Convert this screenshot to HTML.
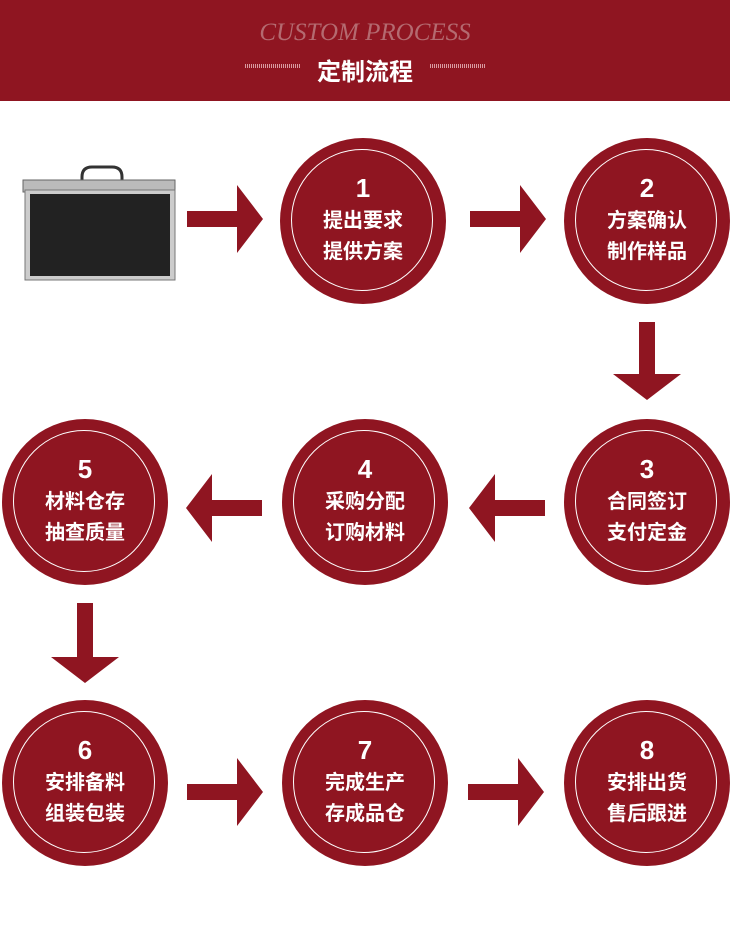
<!DOCTYPE html>
<html><head><meta charset="utf-8"><style>
body{margin:0;width:730px;height:945px;background:#fff;position:relative;overflow:hidden;font-family:"Liberation Sans","Noto Sans CJK SC",sans-serif}
.hd{position:absolute;left:0;top:0;width:730px;height:101px;background:#8f1521}
.en{position:absolute;top:19px;width:730px;text-align:center;font-family:"Liberation Serif",serif;font-style:italic;font-size:25px;color:#b46a70;letter-spacing:0px}
.cn{position:absolute;top:52px;width:730px;text-align:center;font-size:24px;font-weight:bold;color:#fff}
.ln{position:absolute;top:64px;width:55px;height:4px;background:repeating-linear-gradient(90deg,#d89aa0 0 1px,transparent 1px 2px)}
.c{position:absolute;width:166px;height:166px;border-radius:50%;background:#8f1521}
.c::after{content:"";position:absolute;left:11px;top:11px;width:142px;height:142px;border-radius:50%;border:1.5px solid #fff;box-sizing:border-box}
.t{position:absolute;left:0;width:166px;text-align:center;color:#fff;font-weight:bold;font-family:"Liberation Sans","Noto Sans CJK SC",sans-serif}
.n{top:35px;font-size:26px}
.l1{top:66px;font-size:20px}
.l2{top:97px;font-size:20px}
</style></head><body>
<div class="hd"></div>
<div class="en">CUSTOM PROCESS</div>
<div class="ln" style="left:245px"></div><div class="ln" style="left:430px"></div>
<div class="cn">定制流程</div>

<svg style="position:absolute;left:20px;top:160px" width="160" height="125">
<path d="M62 25 v-8 q0-10 10-10 h20 q10 0 10 10 v8" fill="none" stroke="#333" stroke-width="3"/>
<rect x="3" y="20" width="152" height="12" fill="#bbb" stroke="#666"/>
<rect x="5" y="30" width="150" height="90" fill="#ccc" stroke="#777"/>
<rect x="10" y="34" width="140" height="82" fill="#222"/>
</svg>

<svg style="position:absolute;left:0;top:0" width="730" height="945">
<g fill="#8f1521">
<path d="M187 219h50v-26l26 34-26 34v-26h-50z" transform="translate(0,-8)"/>
<path d="M470 219h50v-26l26 34-26 34v-26h-50z" transform="translate(0,-8)"/>
<path d="M639 322v52h-26l34 26 34-26h-26v-52z"/>
<path d="M262 502h-50v-26l-26 34 26 34v-26h50z" transform="translate(0,-2)"/>
<path d="M545 502h-50v-26l-26 34 26 34v-26h50z" transform="translate(0,-2)"/>
<path d="M77 603v54h-26l34 26 34-26h-26v-54z"/>
<path d="M187 792h50v-26l26 34-26 34v-26h-50z" transform="translate(0,-8)"/>
<path d="M468 792h50v-26l26 34-26 34v-26h-50z" transform="translate(0,-8)"/>
</g></svg>

<div class="c" style="left:280px;top:138px"><div class="t n">1</div><div class="t l1">提出要求</div><div class="t l2">提供方案</div></div>
<div class="c" style="left:564px;top:138px"><div class="t n">2</div><div class="t l1">方案确认</div><div class="t l2">制作样品</div></div>
<div class="c" style="left:564px;top:419px"><div class="t n">3</div><div class="t l1">合同签订</div><div class="t l2">支付定金</div></div>
<div class="c" style="left:282px;top:419px"><div class="t n">4</div><div class="t l1">采购分配</div><div class="t l2">订购材料</div></div>
<div class="c" style="left:2px;top:419px"><div class="t n">5</div><div class="t l1">材料仓存</div><div class="t l2">抽查质量</div></div>
<div class="c" style="left:2px;top:700px"><div class="t n">6</div><div class="t l1">安排备料</div><div class="t l2">组装包装</div></div>
<div class="c" style="left:282px;top:700px"><div class="t n">7</div><div class="t l1">完成生产</div><div class="t l2">存成品仓</div></div>
<div class="c" style="left:564px;top:700px"><div class="t n">8</div><div class="t l1">安排出货</div><div class="t l2">售后跟进</div></div>
</body></html>
